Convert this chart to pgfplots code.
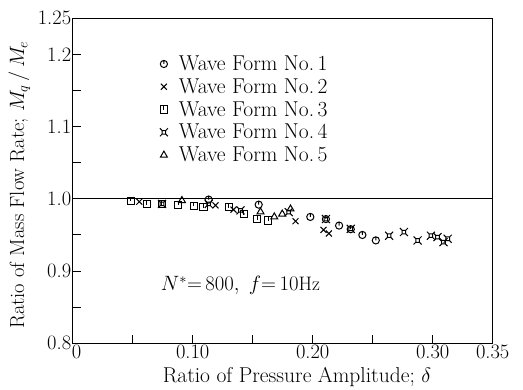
\documentclass[border=0pt]{standalone}
\usepackage{pgfplots}
\pgfplotsset{compat=1.18}

\pgfdeclareplotmark{circtick}{%
  \pgfpathcircle{\pgfpointorigin}{\pgfplotmarksize}%
  \pgfpathmoveto{\pgfpointorigin}%
  \pgfpathlineto{\pgfpoint{0pt}{\pgfplotmarksize}}%
  \pgfusepathqstroke}
\pgfdeclareplotmark{sqtick}{%
  \pgfpathrectangle{\pgfpoint{-\pgfplotmarksize}{-\pgfplotmarksize}}{\pgfpoint{2\pgfplotmarksize}{2\pgfplotmarksize}}%
  \pgfpathmoveto{\pgfpoint{0pt}{\pgfplotmarksize}}%
  \pgfpathlineto{\pgfpoint{0pt}{-0.2\pgfplotmarksize}}%
  \pgfusepathqstroke}
\pgfdeclareplotmark{sqstar}{%
  \pgfpathrectangle{\pgfpoint{-0.45\pgfplotmarksize}{-0.45\pgfplotmarksize}}{\pgfpoint{0.9\pgfplotmarksize}{0.9\pgfplotmarksize}}%
  \pgfpathmoveto{\pgfpoint{-\pgfplotmarksize}{-\pgfplotmarksize}}\pgfpathlineto{\pgfpoint{-0.45\pgfplotmarksize}{-0.45\pgfplotmarksize}}%
  \pgfpathmoveto{\pgfpoint{\pgfplotmarksize}{-\pgfplotmarksize}}\pgfpathlineto{\pgfpoint{0.45\pgfplotmarksize}{-0.45\pgfplotmarksize}}%
  \pgfpathmoveto{\pgfpoint{-\pgfplotmarksize}{\pgfplotmarksize}}\pgfpathlineto{\pgfpoint{-0.45\pgfplotmarksize}{0.45\pgfplotmarksize}}%
  \pgfpathmoveto{\pgfpoint{\pgfplotmarksize}{\pgfplotmarksize}}\pgfpathlineto{\pgfpoint{0.45\pgfplotmarksize}{0.45\pgfplotmarksize}}%
  \pgfusepathqstroke}

\pgfplotstableread{
x y
0.1133 0.999
0.155 0.992
0.198 0.975
0.211 0.972
0.222 0.963
0.2317 0.958
0.2414 0.950
0.2526 0.9425
}\wfone
\pgfplotstableread{
x y
0.0555 0.996
0.119 0.991
0.134 0.985
0.1857 0.969
0.209 0.957
0.2135 0.952
}\wftwo
\pgfplotstableread{
x y
0.0485 0.9975
0.0618 0.993
0.0744 0.993
0.088 0.992
0.1008 0.9905
0.109 0.9885
0.130 0.9885
0.1425 0.979
0.1537 0.972
0.163 0.970
}\wfthree
\pgfplotstableread{
x y
0.0744 0.993
0.1133 0.993
0.1398 0.984
0.180 0.9816
0.211 0.972
0.2317 0.9585
0.2637 0.949
0.276 0.954
0.2874 0.9424
0.2985 0.949
0.304 0.947
0.309 0.940
0.3125 0.9447
}\wffour
\pgfplotstableread{
x y
0.091 0.9977
0.1565 0.982
0.168 0.975
0.1746 0.979
0.1815 0.986
}\wffive

\begin{document}
\begin{tikzpicture}
\path[use as bounding box] (-72.7pt,-46.7pt) rectangle (450.3pt,343.3pt);
\begin{axis}[
  scale only axis,
  width=420pt, height=325pt,
  xmin=0, xmax=0.35, ymin=0.8, ymax=1.25,
  axis line style={line width=1.3pt},
  xtick={0,0.1,0.2,0.3,0.35},
  xticklabels={\hspace{8pt}0,0.10,0.20,0.30,0.35},
  minor xtick={0.05,0.15,0.25},
  ytick={0.8,0.9,1.0,1.1,1.2,1.25},
  yticklabels={0.8,0.9,1.0,1.1,1.2,1.25},
  minor ytick={0.85,0.95,1.05,1.15},
  xtick pos=bottom, ytick pos=left,
  tick align=inside,
  major tick length=8pt, minor tick length=8pt,
  every tick/.style={black, line width=1pt},
  tick label style={font=\fontsize{20.5}{24}\selectfont},
  xticklabel style={yshift=2pt},
  yticklabel style={xshift=2pt},
  xlabel={Ratio of Pressure Amplitude; $\delta$},
  ylabel={Ratio of Mass Flow Rate; $M_q\,/\,M_e$},
  every axis x label/.style={at={(axis description cs:0.534,-0.104)}, anchor=center, font=\fontsize{21.5}{25}\selectfont},
  every axis y label/.style={at={(axis description cs:-0.127,0.487)}, anchor=center, rotate=90, font=\fontsize{20.5}{24}\selectfont},
  legend style={at={(axis cs:0.0725,1.201)}, anchor=north west, draw=none, fill=none,
    font=\fontsize{21.5}{25}\selectfont, row sep=2.6pt, inner sep=0pt,
    nodes={inner sep=2pt}},
  legend cell align=left,
  legend image code/.code={\path[draw=none] (0pt,0pt) -- (16pt,0pt); \draw[#1] plot coordinates {(3pt,0cm)};},
  mark size=3.6pt,
]
\addplot[black, line width=0.9pt, forget plot] coordinates {(0,1) (0.35,1)};
\addplot[only marks, mark=circtick, black, line width=1pt] table[x=x,y=y] {\wfone};
\addlegendentry{Wave Form No.\,1}
\addplot[only marks, mark=x, black, line width=1pt, mark size=4.2pt] table[x=x,y=y] {\wftwo};
\addlegendentry{Wave Form No.\,2}
\addplot[only marks, mark=sqtick, black, line width=1pt] table[x=x,y=y] {\wfthree};
\addlegendentry{Wave Form No.\,3}
\addplot[only marks, mark=sqstar, black, line width=1pt, mark size=4pt] table[x=x,y=y] {\wffour};
\addlegendentry{Wave Form No.\,4}
\addplot[only marks, mark=triangle, black, line width=1pt, mark size=4pt] table[x=x,y=y] {\wffive};
\addlegendentry{Wave Form No.\,5}
\node[font=\fontsize{19.5}{23}\selectfont] at (axis cs:0.1398,0.8797) {$N^*{=}\,800,\ f{=}\,10$Hz};
\end{axis}
\end{tikzpicture}
\end{document}
